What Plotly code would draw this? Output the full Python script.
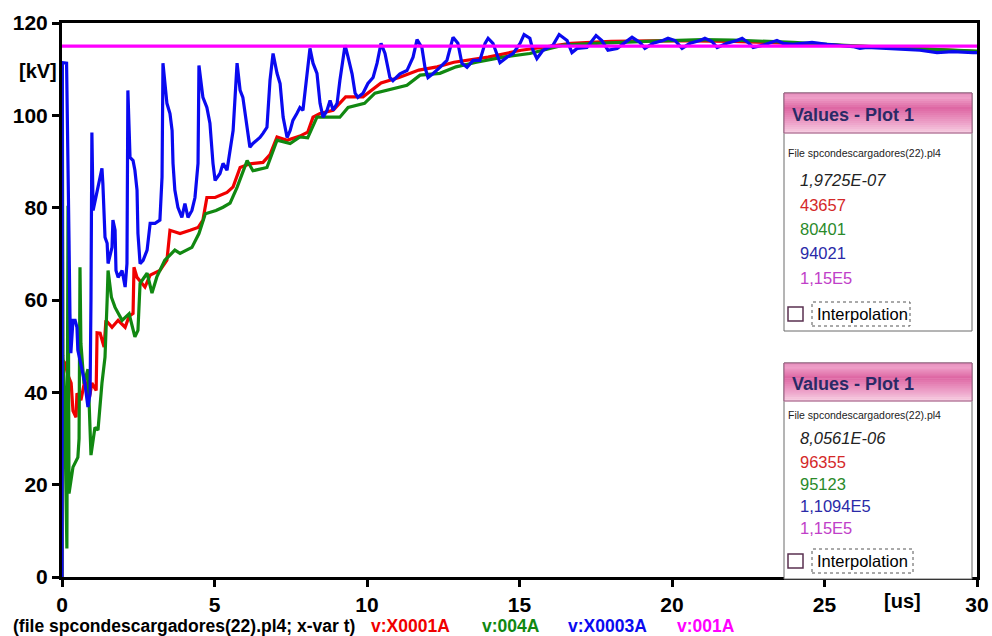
import plotly.graph_objects as go

# ---------------- data (time in microseconds, voltage in kV) ----------------
red_t = [0, 0.005, 0.02, 0.10, 0.19725, 0.30, 0.36, 0.46, 0.49, 0.62, 0.75, 0.90, 0.98, 1.12, 1.15,
         1.25, 1.38, 1.44, 1.64, 1.84, 2.07, 2.20, 2.33, 2.36, 2.46, 2.72, 2.89, 3.21, 3.44, 3.54,
         3.87, 4.20, 4.46, 4.62, 4.75, 5.02, 5.41, 5.61, 5.84, 6.16, 6.59, 6.82, 7.05, 7.38, 7.80,
         8.0561, 8.23, 8.46, 8.89, 9.30, 9.87, 10.46, 11.05, 11.70, 12.30, 12.85, 13.97, 15.05,
         16.69, 18.0, 20.0, 22.0, 24.0, 26.0, 28.0, 30.0]
red_kv = [0, 111.0, 47.0, 46.3, 43.657, 42.0, 36.0, 34.6, 39.8, 38.3, 42.6, 38.9, 42.0, 40.4, 52.9,
          52.8, 49.8, 55.6, 54.1, 55.6, 54.1, 56.5, 57.1, 67.1, 64.9, 62.8, 65.4, 66.4, 68.6, 75.1,
          74.4, 75.1, 75.7, 77.3, 82.2, 82.2, 83.3, 84.5, 88.7, 89.5, 89.8, 91.5, 95.3, 94.6, 95.5,
          96.355, 99.6, 100.4, 101.1, 104.0, 104.0, 107.0, 108.2, 109.8, 110.5, 111.5, 112.6, 114.1,
          115.6, 116.0, 116.2, 116.0, 115.6, 115.0, 114.5, 113.8]

green_t = [0, 0.01, 0.03, 0.08, 0.16, 0.19725, 0.23, 0.36, 0.52, 0.56, 0.59, 0.62, 0.72, 0.85, 0.95,
           1.08, 1.18, 1.31, 1.41, 1.48, 1.51, 1.62, 1.74, 1.97, 2.20, 2.39, 2.49, 2.56, 2.79, 2.95,
           3.11, 3.37, 3.70, 3.87, 4.26, 4.49, 4.70, 5.05, 5.28, 5.51, 5.74, 6.07, 6.26, 6.72, 7.05,
           7.48, 7.80, 8.0561, 8.36, 8.79, 9.11, 9.38, 9.92, 10.26, 10.66, 11.31, 11.74, 12.39, 12.92,
           13.59, 14.46, 15.34, 16.43, 17.51, 19.15, 21.0, 22.0, 23.97, 25.5, 27.0, 28.5, 30.0]
green_kv = [0, 110.4, 48.0, 40.0, 6.2, 80.401, 18.1, 23.8, 25.9, 30.0, 67.1, 50.6, 41.9, 45.0, 26.4,
            32.4, 31.8, 42.0, 47.6, 60.0, 66.4, 60.6, 58.4, 55.6, 57.0, 52.0, 53.4, 63.6, 65.8, 61.5,
            65.0, 68.6, 70.8, 70.1, 71.4, 74.4, 78.7, 79.4, 80.1, 81.0, 84.4, 90.2, 88.0, 88.7, 94.6,
            93.9, 95.3, 95.123, 99.6, 99.6, 99.6, 101.7, 102.6, 104.8, 105.4, 106.5, 108.7, 109.1, 110.5,
            111.5, 112.6, 113.4, 115.2, 115.6, 116.0, 116.4, 116.3, 115.8, 115.2, 114.7, 114.3, 113.9]

blue_t = [0, 0.01, 0.15, 0.19725, 0.23, 0.26, 0.29, 0.36, 0.43, 0.49, 0.52, 0.66, 0.75, 0.85, 0.92,
          0.95, 0.98, 1.02, 1.15, 1.25, 1.31, 1.34, 1.41, 1.48, 1.51, 1.64, 1.67, 1.74, 1.77, 1.84,
          1.97, 2.07, 2.13, 2.16, 2.23, 2.33, 2.39, 2.46, 2.49, 2.56, 2.66, 2.79, 2.89, 3.05, 3.21,
          3.28, 3.31, 3.44, 3.54, 3.61, 3.64, 3.70, 3.80, 3.93, 4.03, 4.13, 4.26, 4.36, 4.46, 4.49,
          4.62, 4.75, 4.85, 4.95, 5.02, 5.18, 5.28, 5.41, 5.51, 5.61, 5.74, 5.84, 5.93, 6.07, 6.16,
          6.26, 6.39, 6.49, 6.59, 6.72, 6.82, 6.92, 7.05, 7.15, 7.25, 7.38, 7.48, 7.57, 7.70, 7.80,
          7.90, 8.0561, 8.13, 8.23, 8.36, 8.46, 8.56, 8.69, 8.79, 8.89, 9.02, 9.11, 9.28, 9.38, 9.51,
          9.61, 9.70, 9.87, 10.03, 10.20, 10.33, 10.46, 10.59, 10.75, 10.85, 11.08, 11.31, 11.51,
          11.64, 11.80, 11.90, 12.00, 12.16, 12.39, 12.62, 12.82, 12.98, 13.11, 13.28, 13.48, 13.70,
          13.87, 13.97, 14.13, 14.26, 14.36, 14.59, 14.79, 15.02, 15.15, 15.34, 15.44, 15.57, 15.77,
          16.10, 16.30, 16.56, 16.72, 16.89, 17.21, 17.51, 17.70, 17.90, 18.20, 18.69, 18.95, 19.11,
          19.38, 19.70, 19.87, 20.10, 20.33, 20.59, 20.92, 21.08, 21.31, 21.48, 21.80, 22.13, 22.30,
          22.49, 22.66, 22.98, 23.44, 23.64, 23.97, 24.59, 25.08, 25.93, 26.16, 26.39, 27.05, 27.57,
          28.13, 28.69, 29.21, 29.87, 30.0]
blue_kv = [0, 111.4, 111.3, 94.021, 72.9, 57.1, 48.5, 55.6, 55.6, 54.1, 49.1, 44.8, 42.0, 36.8, 39.8,
           60.0, 96.3, 79.4, 83.8, 86.6, 88.5, 85.2, 73.6, 72.3, 67.9, 71.4, 77.3, 75.1, 66.4, 64.9,
           66.4, 62.8, 67.9, 105.4, 90.9, 90.2, 88.1, 83.8, 74.4, 67.9, 68.6, 70.8, 76.6, 76.6, 77.3,
           86.6, 111.3, 102.6, 100.4, 96.7, 89.6, 83.8, 80.1, 77.9, 80.9, 77.9, 79.4, 82.2, 89.6, 110.8,
           103.9, 101.7, 98.3, 89.6, 85.9, 87.4, 89.6, 88.1, 92.4, 96.7, 111.3, 105.4, 103.9, 96.7, 93.1,
           93.9, 94.6, 95.2, 96.1, 97.4, 107.6, 113.4, 109.1, 106.9, 99.6, 95.2, 96.7, 98.9, 100.4, 101.7,
           101.1, 110.94, 114.5, 111.3, 109.1, 102.6, 99.6, 101.1, 103.2, 101.1, 102.6, 107.5, 115.2, 112.6, 109.0,
           104.8, 103.9, 104.8, 106.9, 108.2, 111.3, 115.6, 113.4, 108.2, 107.5, 109.0, 109.7, 112.6,
           116.4, 114.7, 110.4, 108.2, 109.0, 110.4, 111.9, 116.9, 115.6, 111.3, 110.4, 111.9, 111.9,
           115.6, 116.7, 115.6, 113.0, 111.4, 112.6, 113.4, 115.6, 117.5, 116.7, 114.1, 112.3, 114.1,
           115.2, 117.5, 116.2, 113.6, 114.5, 114.7, 117.3, 116.2, 114.1, 114.5, 116.9, 115.8, 114.5,
           115.6, 116.2, 116.7, 116.2, 114.5, 115.6, 116.2, 116.7, 116.0, 114.7, 115.6, 116.2, 116.7,
           115.8, 114.7, 115.2, 116.2, 115.6, 115.4, 115.8, 115.4, 114.9, 114.5, 114.7, 114.5, 114.3,
           114.1, 113.6, 113.8, 113.6, 113.6]

magenta_t = [0, 30]
magenta_kv = [115, 115]

x_ticks = [0, 5, 10, 15, 20, 25, 30]
y_ticks = [0, 20, 40, 60, 80, 100, 120]

series_names = ["v:X0001A", "v:004A", "v:X0003A", "v:001A"]
series_colors = ["#f00000", "#118811", "#0a0af0", "#ff00ff"]
readout_colors = ["#d42828", "#2a8a2a", "#2a2aa8", "#c040c8"]

file_caption = "(file spcondescargadores(22).pl4; x-var t)"
box_file_text = "File spcondescargadores(22).pl4"
cursor_times = ["1,9725E-07", "8,0561E-06"]
cursor_readouts = [["43657", "80401", "94021", "1,15E5"],
                   ["96355", "95123", "1,1094E5", "1,15E5"]]

# ---------------- figure ----------------
W, H = 992, 636
L, R, T, B = 62, 977, 23, 577


def px(x):
    return (x - L) / (R - L)


def py(y):
    return (B - y) / (B - T)


fig = go.Figure()
for t, v, c, n in zip([red_t, green_t, blue_t, magenta_t],
                      [red_kv, green_kv, blue_kv, magenta_kv],
                      series_colors, series_names):
    fig.add_trace(go.Scatter(x=t, y=v, mode="lines", name=n,
                             line=dict(color=c, width=3.2), showlegend=False,
                             hoverinfo="skip"))

bold = dict(family="Liberation Sans, Arial, sans-serif", size=21, color="black", weight="bold")

fig.update_layout(
    width=W, height=H,
    margin=dict(l=L, r=W - R, t=T, b=H - B, pad=0),
    paper_bgcolor="white", plot_bgcolor="white",
    xaxis=dict(range=[0, 30], tickvals=x_ticks, ticktext=[str(v) for v in x_ticks],
               showline=True, linecolor="black", linewidth=3, mirror=True,
               ticks="outside", ticklen=7, tickwidth=3, tickcolor="black",
               showgrid=False, zeroline=False, tickfont=bold, automargin=False),
    yaxis=dict(range=[0, 120], tickvals=y_ticks, ticktext=[str(v) for v in y_ticks],
               showline=True, linecolor="black", linewidth=3, mirror=True,
               ticks="outside", ticklen=7, tickwidth=3, tickcolor="black",
               showgrid=False, zeroline=False, tickfont=bold, automargin=False),
)

ann = []


def text(x, y, s, size=15, color="black", weight="normal", style="normal", anchor="left"):
    ann.append(dict(x=px(x), y=py(y), xref="paper", yref="paper", text=s, showarrow=False,
                    xanchor=anchor, yanchor="middle",
                    font=dict(family="Liberation Sans, Arial, sans-serif", size=size,
                              color=color, weight=weight, style=style)))


# axis unit labels
text(38, 71, "[kV]", size=20, weight="bold", anchor="center")
text(902, 601, "[us]", size=20, weight="bold", anchor="center")

# caption line with series names
text(11, 626, file_caption, size=17.5, weight="bold")
for x0, n, c in zip([369, 480, 566, 675], series_names, series_colors):
    text(x0, 626, n, size=17.5, color=c, weight="bold")

shapes = []


def lerp(c1, c2, f):
    a = [int(c1[i:i + 2], 16) for i in (1, 3, 5)]
    b = [int(c2[i:i + 2], 16) for i in (1, 3, 5)]
    return "#%02x%02x%02x" % tuple(int(round(a[k] + (b[k] - a[k]) * f)) for k in range(3))


def header_color(f):
    stops = [(0.0, "#e58fbc"), (0.12, "#ee9fc8"), (0.38, "#de67a3"),
             (0.75, "#eda2c9"), (1.0, "#f7cfe2")]
    for (f0, c0), (f1, c1) in zip(stops[:-1], stops[1:]):
        if f <= f1:
            return lerp(c0, c1, (f - f0) / (f1 - f0))
    return stops[-1][1]


def rect(x0, y0, x1, y1, fill="rgba(0,0,0,0)", line="rgba(0,0,0,0)", width=0, dash="solid"):
    shapes.append(dict(type="rect", xref="paper", yref="paper", layer="above",
                       x0=px(x0), x1=px(x1), y0=py(y1), y1=py(y0),
                       fillcolor=fill, line=dict(color=line, width=width, dash=dash)))


def values_box(top, bottom, head_h):
    left, right = 784, 972
    # body
    rect(left, top, right, bottom, fill="white", line="#6a6a6a", width=1)
    # header with vertical gradient
    n = 20
    for i in range(n):
        y0 = top + head_h * i / n
        y1 = top + head_h * (i + 1) / n + 0.6
        rect(left, y0, right, y1, fill=header_color((i + 0.5) / n))
    rect(left, top, right, top + head_h, line="#9a5a80", width=1)
    text(790, top + head_h / 2 + 2, "Values - Plot 1", size=18, color="#2a2a66", weight="bold")


def readouts(top_file, ys, time_str, values, check_y, dotted_right):
    text(786, top_file, box_file_text, size=10.5, color="#222222")
    text(798, ys[0], time_str, size=16.5, color="#222222", style="italic")
    for yy, s, c in zip(ys[1:], values, readout_colors):
        text(798, yy, s, size=16.5, color=c)
    rect(788, check_y - 7, 803, check_y + 7, fill="white", line="#5a3050", width=1.5)
    rect(812, check_y - 12, dotted_right, check_y + 12, line="#555555", width=1, dash="dot")
    text(815, check_y, "Interpolation", size=16.5, color="black")


# first readout box
values_box(93, 331, 40)
readouts(153, [180, 205, 229, 253, 278], cursor_times[0], cursor_readouts[0], 314, 910)

# second readout box
values_box(363, 579, 38)
readouts(415, [438, 462, 484, 506, 528], cursor_times[1], cursor_readouts[1], 561, 913)

fig.update_layout(shapes=shapes, annotations=ann)
fig.write_html("out.html")
